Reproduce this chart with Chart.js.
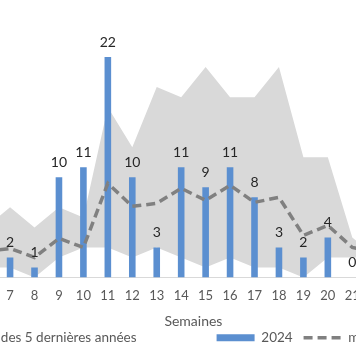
<!DOCTYPE html>
<html><head><meta charset="utf-8">
<script src="https://cdn.jsdelivr.net/npm/chart.js@4/dist/chart.umd.min.js"></script>
<style>
html,body{margin:0;padding:0;background:#fff;overflow:hidden;width:356px;height:364px;}
#wrap{position:relative;width:356px;height:364px;overflow:hidden;}
#c{position:absolute;left:-129px;top:0;}
</style></head><body>
<div id="wrap"><canvas id="c" width="700" height="364"></canvas></div>
<script>
// Weeks (categories)
const weeks = ['6','7','8','9','10','11','12','13','14','15','16','17','18','19','20','21','22','23'];
// 2024 weekly counts
const cases2024 = [null,2,1,10,11,22,10,3,11,9,11,8,3,2,4,0,null,null];
// Max of the last 5 years
const max5y = [5,7,5,7,6,17,13,19,18,21,18,18,21,12,12,4,2,null];
// Min of the last 5 years
const min5y = [1,1,0,2,3,3,2,3,2,1,2,1,1,0,2,2,2,null];
// Mean of the last 5 years
const mean5y = [2.6,2.9,2.0,3.9,3.0,9.4,7.1,7.4,8.9,7.7,9.2,7.5,8.0,4.2,5.2,3.0,2.5,null];

const labelMinMax = 'Min-max des 5 dernières années';
const label2024 = '2024';
const labelMean = 'moyenne des 5 dernières années';

const FONT = 'Lato';
const LEGEND_SIZE = 13.5;

// spacing fillers so legend items sit where the reference places them
const mctx = document.createElement('canvas').getContext('2d');
mctx.font = LEGEND_SIZE + 'px ' + FONT;
const nbspW = mctx.measureText('\u00A0').width || 3;
const fillA = '\u00A0'.repeat(Math.round(76 / nbspW));
const fillB = '\u00A0'.repeat(Math.round(8.5 / nbspW));

const valueLabels = {
  id: 'valueLabels',
  afterDatasetsDraw(chart) {
    const idx = 2;
    const meta = chart.getDatasetMeta(idx);
    const data = chart.data.datasets[idx].data;
    const ctx = chart.ctx;
    ctx.save();
    ctx.font = '14px ' + FONT;
    ctx.fillStyle = '#262626';
    ctx.textAlign = 'center';
    ctx.textBaseline = 'middle';
    meta.data.forEach((el, i) => {
      if (data[i] == null) return;
      ctx.fillText(String(data[i]), el.x, el.y - 15);
    });
    ctx.restore();
  }
};

const rank = {0: 0, 2: 1, 3: 2};

new Chart(document.getElementById('c'), {
  data: {
    labels: weeks,
    datasets: [
      {
        type: 'line', label: labelMinMax + fillA, data: max5y,
        borderColor: 'rgba(0,0,0,0)', borderWidth: 0, backgroundColor: '#d9d9d9',
        pointRadius: 0, fill: '+1', tension: 0, order: 3
      },
      {
        type: 'line', label: 'min', data: min5y,
        borderColor: 'rgba(0,0,0,0)', borderWidth: 0, backgroundColor: 'rgba(0,0,0,0)',
        pointRadius: 0, fill: false, tension: 0, order: 4
      },
      {
        type: 'bar', label: label2024 + fillB, data: cases2024,
        backgroundColor: '#5b8fd0', borderWidth: 0,
        categoryPercentage: 1, barPercentage: 0.27, order: 2
      },
      {
        type: 'line', label: labelMean, data: mean5y,
        borderColor: '#808080', borderWidth: 3.5, borderDash: [9, 5], borderCapStyle: 'butt',
        backgroundColor: '#808080', pointRadius: 0, fill: false, tension: 0, order: 1
      }
    ]
  },
  options: {
    responsive: false,
    animation: false,
    layout: { padding: { top: 27, bottom: 9.6, left: 0, right: 0 } },
    scales: {
      x: {
        type: 'category',
        offset: true,
        grid: { display: false, drawTicks: false },
        border: { display: true, color: '#d9d9d9', width: 1 },
        ticks: { color: '#595959', font: { family: FONT, size: 13 }, padding: 11, maxRotation: 0, autoSkip: false },
        title: { display: true, text: 'Semaines', color: '#595959', font: { family: FONT, size: 14 }, padding: { top: -2, bottom: -3 } }
      },
      y: {
        position: 'right',
        min: 0, max: 25,
        grid: { display: false, drawTicks: false },
        border: { display: false },
        ticks: { display: false },
        afterFit(scale) { scale.width = 157.6; }
      },
      yLeft: {
        type: 'linear',
        position: 'left',
        min: 0, max: 25,
        grid: { display: false, drawTicks: false },
        border: { display: false },
        ticks: { display: false },
        afterFit(scale) { scale.width = 102.4; }
      }
    },
    plugins: {
      filler: { drawTime: 'beforeDatasetsDraw' },
      tooltip: { enabled: false },
      legend: {
        position: 'bottom',
        labels: {
          color: '#595959',
          font: { family: FONT, size: LEGEND_SIZE },
          usePointStyle: true,
          pointStyleWidth: 38,
          boxHeight: 7,
          padding: 4,
          filter: (item) => item.datasetIndex !== 1,
          sort: (a, b) => rank[a.datasetIndex] - rank[b.datasetIndex],
          generateLabels(chart) {
            const items = Chart.defaults.plugins.legend.labels.generateLabels(chart);
            items.forEach(it => {
              const ds = chart.data.datasets[it.datasetIndex];
              if (ds.borderDash) {
                it.pointStyle = 'line';
                it.lineDash = ds.borderDash;
                it.lineWidth = ds.borderWidth;
                it.strokeStyle = ds.borderColor;
              } else {
                it.pointStyle = 'rect';
                it.lineWidth = 0;
                it.fillStyle = ds.backgroundColor;
              }
            });
            return items;
          }
        }
      }
    }
  },
  plugins: [valueLabels]
});
</script>
</body></html>
